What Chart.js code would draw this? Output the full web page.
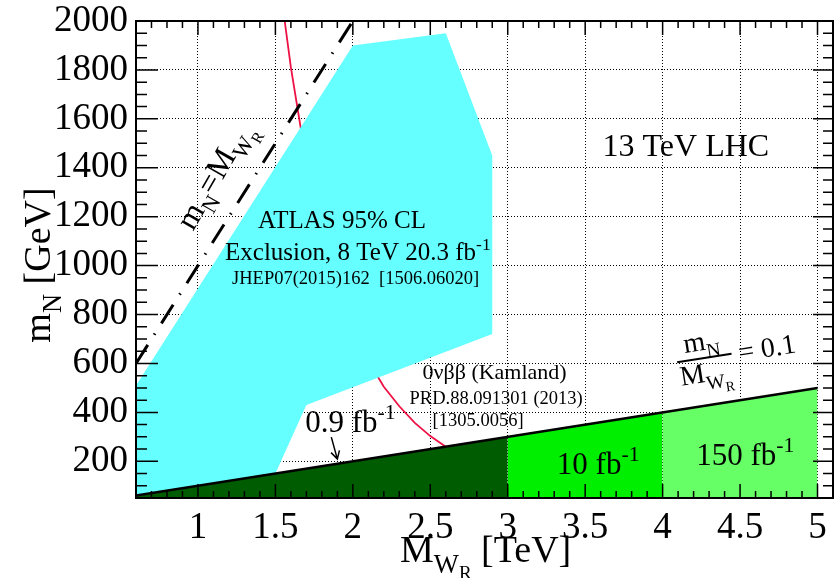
<!DOCTYPE html>
<html>
<head>
<meta charset="utf-8">
<script src="https://cdn.jsdelivr.net/npm/chart.js@4.4.1/dist/chart.umd.min.js"></script>
<style>
html, body { margin: 0; padding: 0; background: #fff; }
#wrap { width: 838px; height: 578px; }
</style>
</head>
<body>
<div id="wrap"><canvas id="myChart" width="838" height="578"></canvas></div>
<script>
// values: M_WR in TeV, m_N in GeV
const atlasX = [0.6, 2.0, 2.6, 2.9, 2.9, 1.7, 1.5, 0.6];
const atlasY = [510, 1900, 1950, 1450, 720, 430, 150, 50];
const diagX = [0.6, 2.0];
const diagY = [600, 2000];
const kamlandX = [1.56, 1.6, 1.7, 1.8, 1.9, 2.0, 2.1, 2.2, 2.3, 2.4, 2.5, 2.6];
const kamlandY = [2000, 1810, 1420, 1130, 910, 740, 610, 505, 425, 357, 303, 260];
const lumi09X = [0.6, 3.0];
const lumi09Y = [60, 300];
const lumi10X = [3.0, 4.0];
const lumi10Y = [300, 400];
const lumi150X = [4.0, 5.0];
const lumi150Y = [400, 500];
const ratioX = [0.6, 5.0];
const ratioY = [60, 500];
const xTicks = [1, 1.5, 2, 2.5, 3, 3.5, 4, 4.5, 5];
const yTicks = [200, 400, 600, 800, 1000, 1200, 1400, 1600, 1800, 2000];

const FONT = '"Liberation Serif", "Times New Roman", serif';

function pts(xs, ys) {
    return xs.map((x, i) => ({ x: x, y: ys[i] }));
}

// text with sub/superscripts, parts = [text, level]
// level 0 normal, 1 subscript, 2 sub of sub, -1 superscript
function drawRich(ctx, parts, x, y, size, align) {
    const spec = { "0": [1, 0], "1": [0.7, 0.28], "2": [0.5, 0.45], "-1": [0.7, -0.42] };
    let w = 0;
    parts.forEach(p => {
        const s = spec[p[1]];
        ctx.font = (size * s[0]) + "px " + FONT;
        w += ctx.measureText(p[0]).width;
    });
    let cx = x;
    if (align === "center") cx = x - w / 2;
    if (align === "right") cx = x - w;
    ctx.textAlign = "left";
    ctx.textBaseline = "alphabetic";
    parts.forEach(p => {
        const s = spec[p[1]];
        ctx.font = (size * s[0]) + "px " + FONT;
        ctx.fillText(p[0], cx, y + s[1] * size);
        cx += ctx.measureText(p[0]).width;
    });
    return w;
}

const rootStyle = {
    id: "rootStyle",
    afterDraw(chart) {
        const ctx = chart.ctx;
        const a = chart.chartArea;
        const sx = chart.scales.x, sy = chart.scales.y;
        const px = v => sx.getPixelForValue(v);
        const py = v => sy.getPixelForValue(v);
        ctx.save();
        ctx.fillStyle = "#000";
        ctx.strokeStyle = "#000";

        // inward ticks
        ctx.lineWidth = 1.5;
        ctx.beginPath();
        for (let i = 7; i <= 50; i++) {
            const x = px(i / 10);
            const len = i % 5 === 0 ? 14 : 7;
            ctx.moveTo(x, a.bottom); ctx.lineTo(x, a.bottom - len);
            ctx.moveTo(x, a.top); ctx.lineTo(x, a.top + len);
        }
        for (let i = 2; i < 40; i++) {
            const y = py(i * 50);
            const major = (i * 50) % 200 === 0;
            ctx.moveTo(a.left, y); ctx.lineTo(a.left + (major ? 22 : 11), y);
            ctx.moveTo(a.right, y); ctx.lineTo(a.right - (major ? 20 : 10), y);
        }
        ctx.stroke();

        // frame
        ctx.lineWidth = 2;
        ctx.strokeRect(a.left, a.top, a.right - a.left, a.bottom - a.top);

        // annotations
        drawRich(ctx, [["13 TeV LHC", 0]], px(4.15), py(1450), 32, "center");
        drawRich(ctx, [["ATLAS 95% CL", 0]], px(1.93), py(1152), 25, "center");
        drawRich(ctx, [["Exclusion, 8 TeV 20.3 fb", 0], ["-1", -1]], px(1.175), py(1022), 25, "left");
        drawRich(ctx, [["JHEP07(2015)162  [1506.06020]", 0]], px(1.22), py(924), 18.5, "left");
        drawRich(ctx, [["0\u03bd\u03b2\u03b2 (Kamland)", 0]], px(2.45), py(536), 22, "left");
        drawRich(ctx, [["PRD.88.091301 (2013)", 0]], px(2.366), py(434), 18.5, "left");
        drawRich(ctx, [["[1305.0056]", 0]], px(2.515), py(344), 18.5, "left");
        drawRich(ctx, [["0.9 fb", 0], ["-1", -1]], px(1.693), py(320), 31, "left");
        drawRich(ctx, [["10 fb", 0], ["-1", -1]], px(3.317), py(148), 31, "left");
        drawRich(ctx, [["150 fb", 0], ["-1", -1]], px(4.217), py(185), 31, "left");

        // arrow to the 0.9 fb-1 line
        const x0 = px(1.861), y0 = py(299), x1 = px(1.9), y1 = py(209);
        const ang = Math.atan2(y1 - y0, x1 - x0);
        ctx.lineWidth = 1.5;
        ctx.beginPath();
        ctx.moveTo(x0, y0); ctx.lineTo(x1, y1);
        ctx.moveTo(x1 - 9 * Math.cos(ang - 0.5), y1 - 9 * Math.sin(ang - 0.5));
        ctx.lineTo(x1, y1);
        ctx.lineTo(x1 - 9 * Math.cos(ang + 0.5), y1 - 9 * Math.sin(ang + 0.5));
        ctx.stroke();

        // m_N / M_WR = 0.1
        ctx.save();
        ctx.translate(px(4.094), py(605));
        ctx.rotate(-0.157);
        ctx.lineWidth = 2;
        ctx.beginPath(); ctx.moveTo(0, 0); ctx.lineTo(55, 0); ctx.stroke();
        drawRich(ctx, [["m", 0], ["N", 1]], 27, -8, 28, "center");
        drawRich(ctx, [["M", 0], ["W", 1], ["R", 2]], 27, 24, 28, "center");
        drawRich(ctx, [["= 0.1", 0]], 62, 9, 28, "left");
        ctx.restore();

        // m_N = M_WR along the diagonal
        ctx.save();
        ctx.translate(px(0.968), py(1138));
        ctx.rotate(-1.05);
        drawRich(ctx, [["m", 0], ["N", 1], ["=M", 0], ["W", 1], ["R", 2]], 0, 0, 32, "left");
        ctx.restore();

        // axis titles
        drawRich(ctx, [["M", 0], ["W", 1], ["R", 2], [" [TeV]", 0]], 400, 562, 38, "left");
        ctx.save();
        ctx.translate(50, 265);
        ctx.rotate(-Math.PI / 2);
        drawRich(ctx, [["m", 0], ["N", 1], [" [GeV]", 0]], 0, 0, 38, "center");
        ctx.restore();

        ctx.restore();
    }
};

const ctx = document.getElementById("myChart").getContext("2d");
const myChart = new Chart(ctx, {
    type: "scatter",
    data: {
        datasets: [
            { data: pts(ratioX, ratioY), borderColor: "#000", borderWidth: 2.5, showLine: true, fill: false, order: 0 },
            { data: pts(diagX, diagY), borderColor: "#000", borderWidth: 3, borderDash: [22, 12, 1.5, 12], showLine: true, fill: false, order: 1 },
            { data: pts(lumi150X, lumi150Y), borderColor: "rgba(0,0,0,0)", borderWidth: 0, backgroundColor: "#66ff66", showLine: true, fill: "start", order: 2 },
            { data: pts(lumi10X, lumi10Y), borderColor: "rgba(0,0,0,0)", borderWidth: 0, backgroundColor: "#00ee00", showLine: true, fill: "start", order: 3 },
            { data: pts(lumi09X, lumi09Y), borderColor: "rgba(0,0,0,0)", borderWidth: 0, backgroundColor: "#005c00", showLine: true, fill: "start", order: 4 },
            { data: pts(atlasX, atlasY), borderColor: "rgba(0,0,0,0)", borderWidth: 0, backgroundColor: "#66ffff", showLine: true, fill: "shape", order: 5 },
            { data: pts(kamlandX, kamlandY), borderColor: "#ee1144", borderWidth: 1.8, showLine: true, fill: false, order: 6 }
        ]
    },
    options: {
        responsive: false,
        animation: false,
        events: [],
        layout: { padding: { left: 0, right: 5, top: 21, bottom: 0 } },
        elements: { point: { radius: 0 }, line: { tension: 0 } },
        plugins: { legend: { display: false }, tooltip: { enabled: false } },
        scales: {
            x: {
                type: "linear",
                min: 0.6,
                max: 5.1,
                afterBuildTicks: s => { s.ticks = xTicks.map(v => ({ value: v })); },
                afterFit: s => { s.height = 80; },
                grid: { color: "#000", lineWidth: 1, drawTicks: false },
                border: { display: false, dash: [1, 2] },
                ticks: { color: "#000", padding: 8, maxRotation: 0, autoSkip: false, callback: v => String(v), font: { family: FONT, size: 37 } }
            },
            y: {
                type: "linear",
                min: 50,
                max: 2000,
                afterBuildTicks: s => { s.ticks = yTicks.map(v => ({ value: v })); },
                afterFit: s => { s.width = 136; },
                grid: { color: "#000", lineWidth: 1, drawTicks: true, tickLength: 8, tickColor: "rgba(0,0,0,0)" },
                border: { display: false, dash: [1, 2] },
                ticks: { color: "#000", padding: 0, autoSkip: false, callback: v => String(v), font: { family: FONT, size: 37, lineHeight: 1 } }
            }
        }
    },
    plugins: [rootStyle]
});
</script>
</body>
</html>
